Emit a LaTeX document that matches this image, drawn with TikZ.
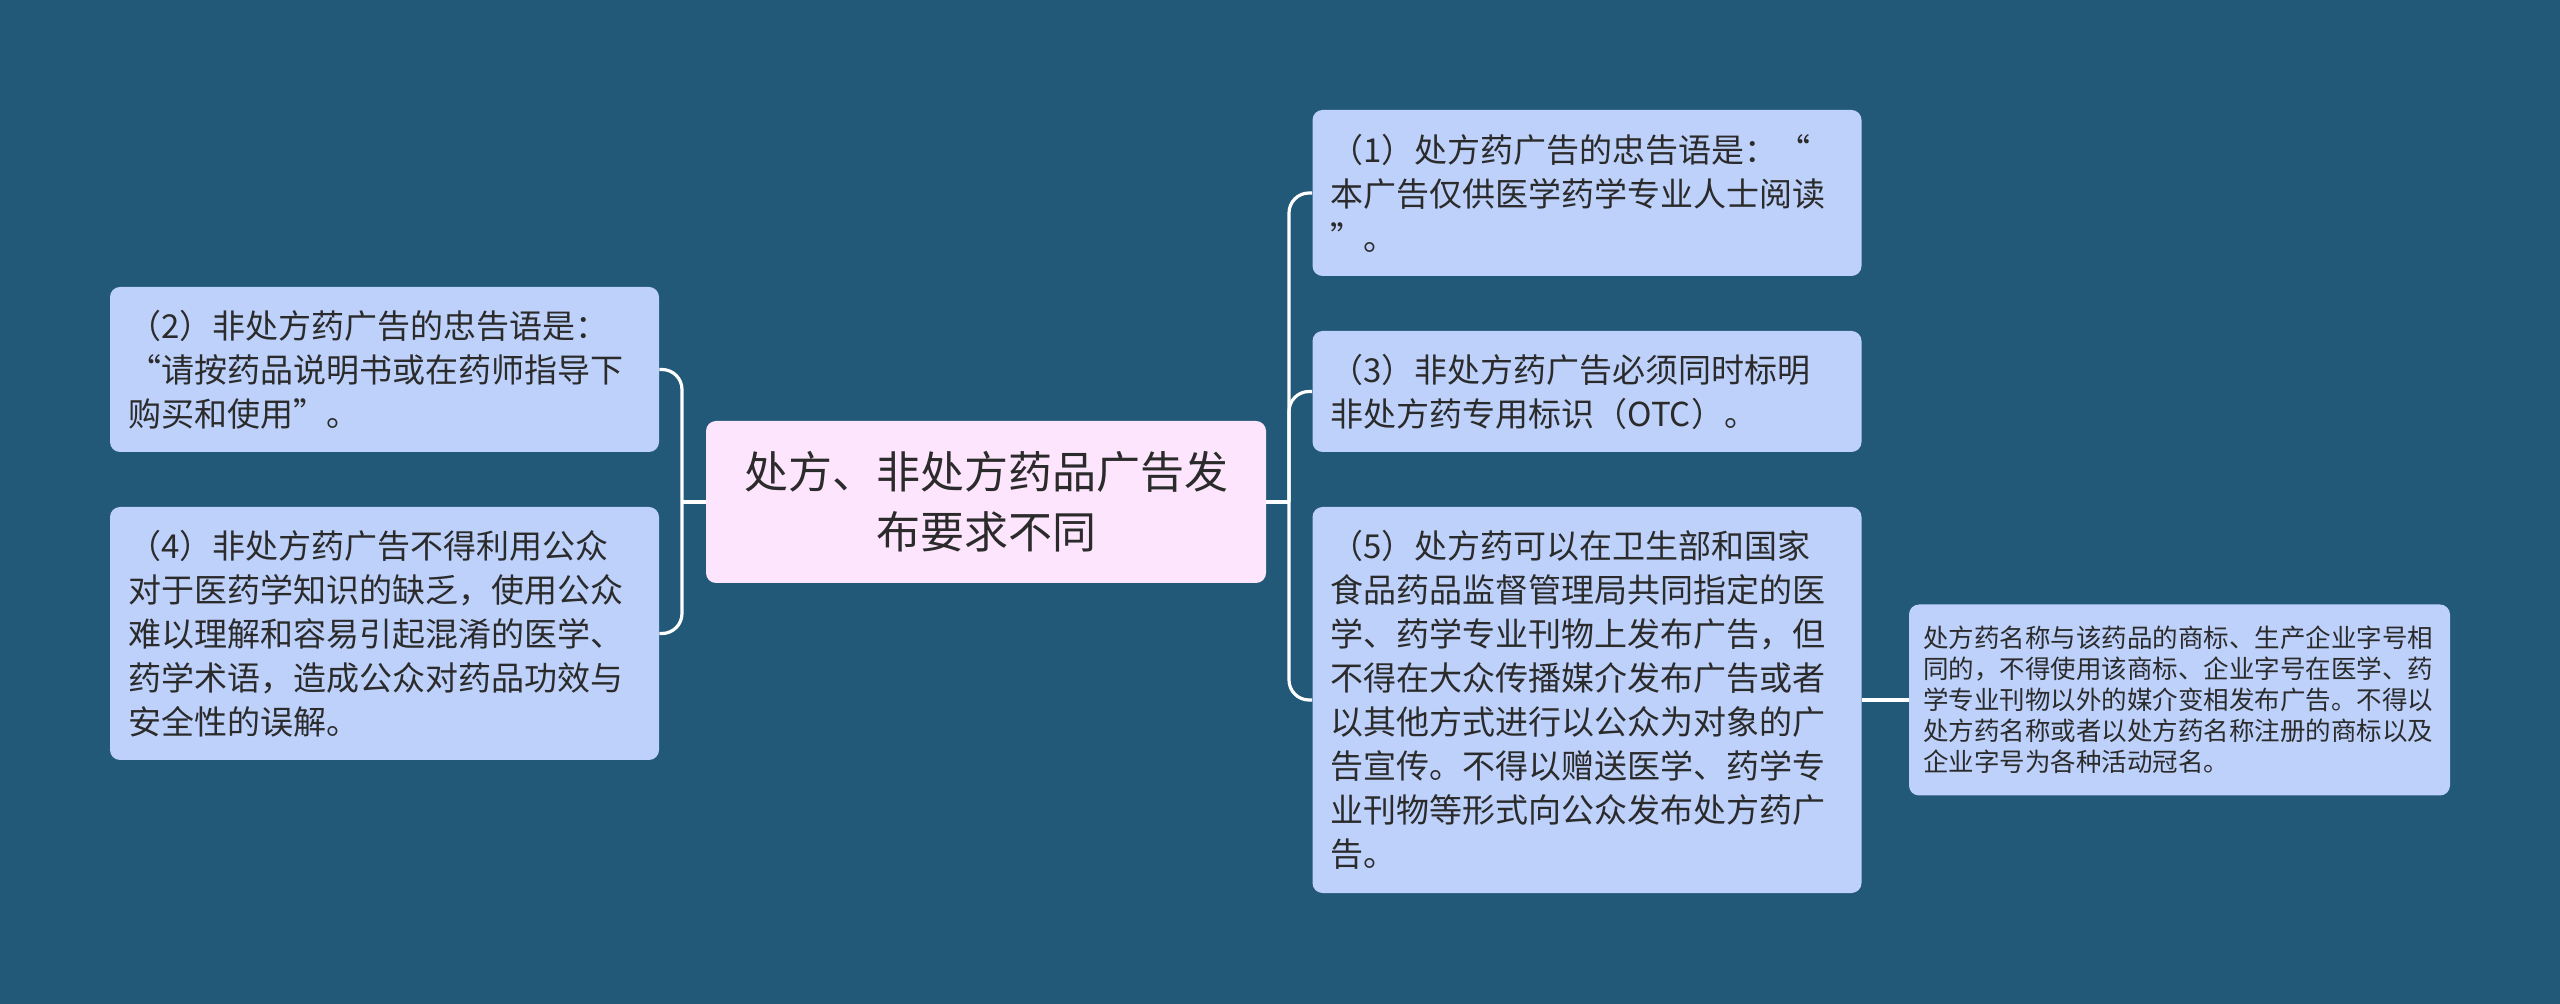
\documentclass[tikz,border=0pt]{standalone}
\usepackage{fontspec}
\setmainfont{Noto Sans CJK SC}
\definecolor{bg}{HTML}{225878}
\definecolor{nodefill}{HTML}{BED1FB}
\definecolor{rootfill}{HTML}{FDE5FD}
\definecolor{txt}{HTML}{2B2B2B}
\begin{document}
\begin{tikzpicture}[x=0.5pt,y=-0.5pt,
  leaf/.style={rectangle, rounded corners=5pt, fill=nodefill, text=txt, align=left,
    inner xsep=9pt, inner ysep=0pt, text width=256.5pt,
    font=\fontsize{16.5}{22}\selectfont},
  root/.style={rectangle, rounded corners=5pt, fill=rootfill, text=txt, align=center,
    inner xsep=10pt, inner ysep=0pt, text width=260pt, minimum height=81pt,
    font=\fontsize{22}{30}\selectfont},
  small/.style={leaf, inner xsep=7pt, text width=256.5pt,
    font=\fontsize{12.75}{15.5}\selectfont},
  link/.style={draw=white, line width=1.6pt, rounded corners=10pt}]
\fill[bg] (0,0) rectangle (2560,1004);
\useasboundingbox (0,0) rectangle (2560,1004);

\node[root] (c) at (986,502) {处方、非处方药品广告发\\布要求不同};

\node[leaf, minimum height=82.5pt] (n2) at (384.5,369.5)
  {（2）非处方药广告的忠告语是：\\“请按药品说明书或在药师指导下\\购买和使用”。};
\node[leaf, minimum height=126.5pt] (n4) at (384.5,633.5)
  {（4）非处方药广告不得利用公众\\对于医药学知识的缺乏，使用公众\\难以理解和容易引起混淆的医学、\\药学术语，造成公众对药品功效与\\安全性的误解。};

\node[leaf, minimum height=83pt] (n1) at (1587,193)
  {（1）处方药广告的忠告语是：“\\本广告仅供医学药学专业人士阅读\\”。};
\node[leaf, minimum height=60.5pt] (n3) at (1587,391.5)
  {（3）非处方药广告必须同时标明\\非处方药专用标识（OTC）。};
\node[leaf, minimum height=193pt] (n5) at (1587,700)
  {（5）处方药可以在卫生部和国家\\食品药品监督管理局共同指定的医\\学、药学专业刊物上发布广告，但\\不得在大众传播媒介发布广告或者\\以其他方式进行以公众为对象的广\\告宣传。不得以赠送医学、药学专\\业刊物等形式向公众发布处方药广\\告。};

\node[small, minimum height=95.5pt] (n6) at (2179.5,700)
  {处方药名称与该药品的商标、生产企业字号相\\同的，不得使用该商标、企业字号在医学、药\\学专业刊物以外的媒介变相发布广告。不得以\\处方药名称或者以处方药名称注册的商标以及\\企业字号为各种活动冠名。};

\coordinate (lb) at (682,502);
\coordinate (rb) at (1289,502);

\draw[link] (c.west) -- (lb);
\draw[link] (lb) |- (n2.east);
\draw[link] (lb) |- (n4.east);

\draw[link] (c.east) -- (rb);
\draw[link] (rb) |- (n1.west);
\draw[link] (rb) |- (n3.west);
\draw[link] (rb) |- (n5.west);

\draw[link] (n5.east) -- (n6.west);
\end{tikzpicture}
\end{document}
